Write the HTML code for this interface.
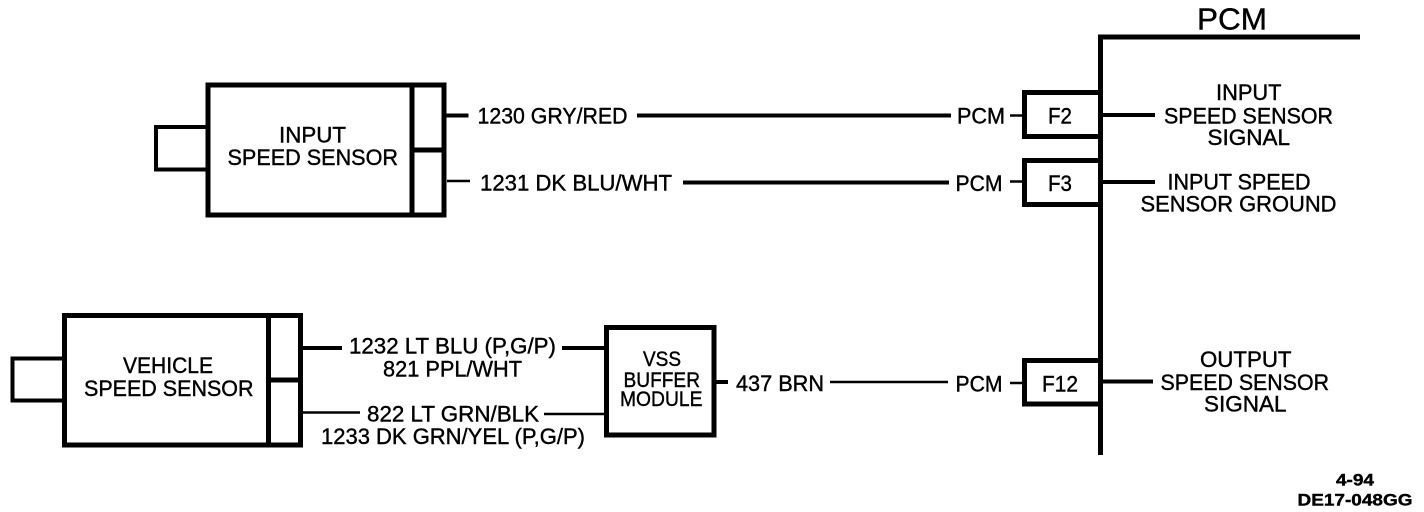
<!DOCTYPE html>
<html><head><meta charset="utf-8"><style>html,body{margin:0;padding:0;background:#fff}svg{display:block}text{font-family:"Liberation Sans",sans-serif;fill:#000;stroke:#000;stroke-width:.4px;font-size:22px;text-anchor:start}</style></head><body>
<svg width="1424" height="512" viewBox="0 0 1424 512" xmlns="http://www.w3.org/2000/svg">
<g fill="none" stroke="#000" stroke-width="5">
<!-- PCM bus -->
<path d="M1360 37H1100.5V455"/>
<!-- Input speed sensor -->
<rect x="208" y="85" width="236" height="130"/>
<path d="M412 85V215M412 150H444"/>
<!-- Vehicle speed sensor -->
<rect x="64.5" y="315.5" width="236" height="129.5"/>
<path d="M268.5 315.5V445M268.5 380H300"/>
<!-- VSS buffer -->
<rect x="606.5" y="327.5" width="107.5" height="107.5"/>
<!-- PCM connector boxes -->
<path d="M1100 92.5H1024.5V136.5H1100"/>
<path d="M1100 160.5H1024.5V204.5H1100"/>
<path d="M1100 360.5H1024.5V404H1100"/>
</g>
<g fill="none" stroke="#000" stroke-width="4">
<path d="M207 127H156V169.500H207"/>
<path d="M63 358.500H12.500V400.500H63"/>
<path d="M446 115.500H468.500M637 115.500H951M1102 115H1155"/>
<path d="M683 182.500H949M1102 182H1155"/>
<path d="M303 348H342M562 348H605M716 382H728M1103 381.500H1153"/>
</g>
<g fill="none" stroke="#000" stroke-width="2.500">
<path d="M1010 115.500H1023M1010 181.500H1023M1010 383H1023"/>
<path d="M447 181H470M830 382H948M303 412.500H360M544 414H605"/>
</g>
<g>
<text x="1197" y="29.500" textLength="70" lengthAdjust="spacingAndGlyphs" style="font-size:31px">PCM</text>
<text x="279" y="142.500" textLength="67" lengthAdjust="spacingAndGlyphs">INPUT</text>
<text x="227.500" y="165" textLength="170.500" lengthAdjust="spacingAndGlyphs">SPEED SENSOR</text>
<text x="477.500" y="123.500" textLength="150" lengthAdjust="spacingAndGlyphs">1230 GRY/RED</text>
<text x="480" y="190.500" textLength="192" lengthAdjust="spacingAndGlyphs">1231 DK BLU/WHT</text>
<text x="957" y="123.500" textLength="48" lengthAdjust="spacingAndGlyphs">PCM</text>
<text x="955.500" y="191" textLength="47" lengthAdjust="spacingAndGlyphs">PCM</text>
<text x="955.500" y="391.500" textLength="47" lengthAdjust="spacingAndGlyphs">PCM</text>
<text x="1048" y="123.500" textLength="24" lengthAdjust="spacingAndGlyphs">F2</text>
<text x="1048" y="191" textLength="24" lengthAdjust="spacingAndGlyphs">F3</text>
<text x="1042" y="391.500" textLength="36" lengthAdjust="spacingAndGlyphs">F12</text>
<text x="1216" y="100" textLength="65.500" lengthAdjust="spacingAndGlyphs">INPUT</text>
<text x="1164" y="123.500" textLength="169" lengthAdjust="spacingAndGlyphs">SPEED SENSOR</text>
<text x="1207.500" y="145" textLength="82.500" lengthAdjust="spacingAndGlyphs">SIGNAL</text>
<text x="1167.500" y="189.500" textLength="143" lengthAdjust="spacingAndGlyphs">INPUT SPEED</text>
<text x="1140.500" y="211.500" textLength="196" lengthAdjust="spacingAndGlyphs">SENSOR GROUND</text>
<text x="1200" y="367" textLength="91.500" lengthAdjust="spacingAndGlyphs">OUTPUT</text>
<text x="1160.500" y="390" textLength="168.500" lengthAdjust="spacingAndGlyphs">SPEED SENSOR</text>
<text x="1204" y="411.500" textLength="82.500" lengthAdjust="spacingAndGlyphs">SIGNAL</text>
<text x="123" y="373" textLength="90" lengthAdjust="spacingAndGlyphs">VEHICLE</text>
<text x="84" y="396" textLength="169.500" lengthAdjust="spacingAndGlyphs">SPEED SENSOR</text>
<text x="349" y="353.500" textLength="207" lengthAdjust="spacingAndGlyphs">1232 LT BLU (P,G/P)</text>
<text x="383" y="376.500" textLength="139" lengthAdjust="spacingAndGlyphs">821 PPL/WHT</text>
<text x="367" y="421.500" textLength="172" lengthAdjust="spacingAndGlyphs">822 LT GRN/BLK</text>
<text x="321" y="444" textLength="264" lengthAdjust="spacingAndGlyphs">1233 DK GRN/YEL (P,G/P)</text>
<text x="643" y="366" textLength="38" lengthAdjust="spacingAndGlyphs" style="font-size:21px">VSS</text>
<text x="623.500" y="387" textLength="76.500" lengthAdjust="spacingAndGlyphs" style="font-size:21px">BUFFER</text>
<text x="620" y="406" textLength="82.500" lengthAdjust="spacingAndGlyphs" style="font-size:21px">MODULE</text>
<text x="736" y="391" textLength="88" lengthAdjust="spacingAndGlyphs">437 BRN</text>
<text x="1336" y="485.500" textLength="38" lengthAdjust="spacingAndGlyphs" style="font-size:17px;font-weight:bold">4-94</text>
<text x="1297.500" y="505.500" textLength="115" lengthAdjust="spacingAndGlyphs" style="font-size:17px;font-weight:bold">DE17-048GG</text>
</g>
</svg>
</body></html>
